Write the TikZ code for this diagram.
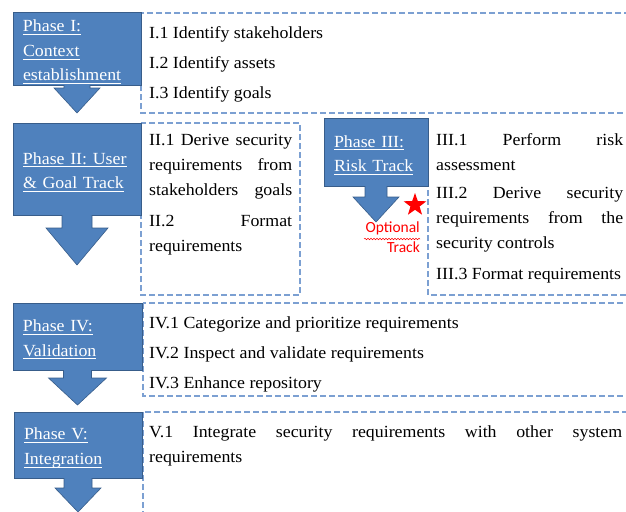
\documentclass[tikz,border=0pt]{standalone}
\usepackage{fontspec}
\setmainfont{Liberation Serif}[FakeStretch=1.05]
\newfontfamily\optfont{Carlito}
\usetikzlibrary{shapes.geometric, decorations.pathmorphing}
\definecolor{phaseblue}{RGB}{79,129,189}
\definecolor{phaseedge}{RGB}{56,93,138}
\definecolor{dashblue}{RGB}{124,160,210}
\newcommand{\phaseul}[1]{\leavevmode\setbox0=\hbox{#1}\rlap{\rule[-3pt]{\wd0}{0.9pt}}\box0}
\newcommand{\fillline}[1]{\leavevmode\makebox[\hsize][s]{\spaceskip=0pt\xspaceskip=0pt #1}}
% block arrow below a phase: node, shaft half width, shaft length, head half width, head length
\newcommand{\phasearrow}[5]{%
  \fill[phaseblue, shift={(#1.south)}] (-#2,-1) -- (-#2,#3) -- (-#4,#3) -- (0,{#3+#5}) -- (#4,#3) -- (#2,#3) -- (#2,-1) -- cycle;
  \draw[phaseedge, line width=0.6pt, shift={(#1.south)}] (-#2,0) -- (-#2,#3) -- (-#4,#3) -- (0,{#3+#5}) -- (#4,#3) -- (#2,#3) -- (#2,0);}
\tikzstyle{phasebox} = [rectangle, anchor=north west,
draw=phaseedge, line width=1pt,
fill=phaseblue, text=white,
align=left, inner xsep=10pt, inner ysep=0pt, outer sep=0pt,
font=\fontsize{17}{24.5}\selectfont,
execute at begin node={\leavevmode\rule{0pt}{18pt}}]
\tikzstyle{taskbox} = [draw=dashblue, line width=1.1pt, dash pattern=on 6pt off 3pt]
\tikzstyle{tasktext} = [anchor=north west, inner sep=0pt, align=left,
font=\fontsize{17}{25}\selectfont,
execute at begin node={\spaceskip=0pt\xspaceskip=0pt\hyphenpenalty=10000}]
\tikzstyle{opttext} = [anchor=north east, inner sep=0pt, align=right, text=red,
font=\optfont\fontsize{15.5}{20}\selectfont]
\begin{document}
\begin{tikzpicture}[x=1pt, y=-1pt]
    \useasboundingbox (0,0) rectangle (626,511);
    % dashed task frames
    \draw [taskbox] (141,13) rectangle (632,113);
    \draw [taskbox] (141,123) rectangle (300,295);
    \draw [taskbox] (428,118) -- (428,295) -- (632,295);
    \draw [taskbox] (143,303) rectangle (632,396);
    \draw [taskbox] (143,412) rectangle (632,530);

    % phases
    \node (p1) [phasebox, text width=108pt, minimum width=128pt, minimum height=72pt] at (13,13) {\phaseul{Phase I:}\\ \phaseul{Context}\\ \phaseul{establishment}};
    \node (p2) [phasebox, text width=108pt, minimum width=128pt, minimum height=92pt] at (13,123) {\phaseul{Phase II: User}\\ \phaseul{\& Goal Track}};
    \node (p3) [phasebox, text width=84pt, minimum width=104pt, minimum height=68pt] at (324,118) {\phaseul{Phase III:}\\ \phaseul{Risk Track}};
    \node (p4) [phasebox, text width=109pt, minimum width=129pt, minimum height=67pt] at (13,303) {\phaseul{Phase IV:}\\ \phaseul{Validation}};
    \node (p5) [phasebox, text width=108pt, minimum width=128pt, minimum height=66pt] at (14,412) {\phaseul{Phase V:}\\ \phaseul{Integration}};

    \phasearrow{p1}{13}{3}{23}{25}
    \phasearrow{p2}{15}{13}{31}{37}
    \phasearrow{p3}{11}{11}{23}{25}
    \phasearrow{p4}{14}{8}{29}{27}
    \phasearrow{p5}{14}{10}{23}{24}

    % tasks
    \node (t1) [tasktext, text width=470pt] at (149,20.5) {\strut I.1 Identify stakeholders\\[5pt] I.2 Identify assets\\[5pt] I.3 Identify goals};
    \node (t2) [tasktext, text width=143pt] at (149,127.5) {\strut\fillline{II.1 Derive security}\\ \fillline{requirements from}\\ \fillline{stakeholders goals}\\[6pt] \fillline{II.2 Format}\\ requirements};
    \node (t3) [tasktext, text width=187pt] at (436,127.5) {\strut\fillline{III.1 Perform risk}\\ assessment\\[3pt] \fillline{III.2 Derive security}\\ \fillline{requirements from the}\\ security controls\\[6pt] III.3 Format requirements};
    \node (t4) [tasktext, text width=470pt] at (149,310.5) {\strut IV.1 Categorize and prioritize requirements\\[5pt] IV.2 Inspect and validate requirements\\[5pt] IV.3 Enhance repository};
    \node (t5) [tasktext, text width=473pt] at (149,419.5) {\strut\fillline{V.1 Integrate security requirements with other system}\\ requirements};

    % optional track mark
    \node (star) [star, star points=5, star point ratio=2.5, fill=red, inner sep=0pt, minimum size=24pt] at (415,205) {};
    \node (opt) [opttext] at (420,222) {Optional\\Track};
    \draw [red, line width=0.5pt, decorate, decoration={snake, amplitude=0.8pt, segment length=3pt}] (364,239) -- (420,239);
\end{tikzpicture}
\end{document}
